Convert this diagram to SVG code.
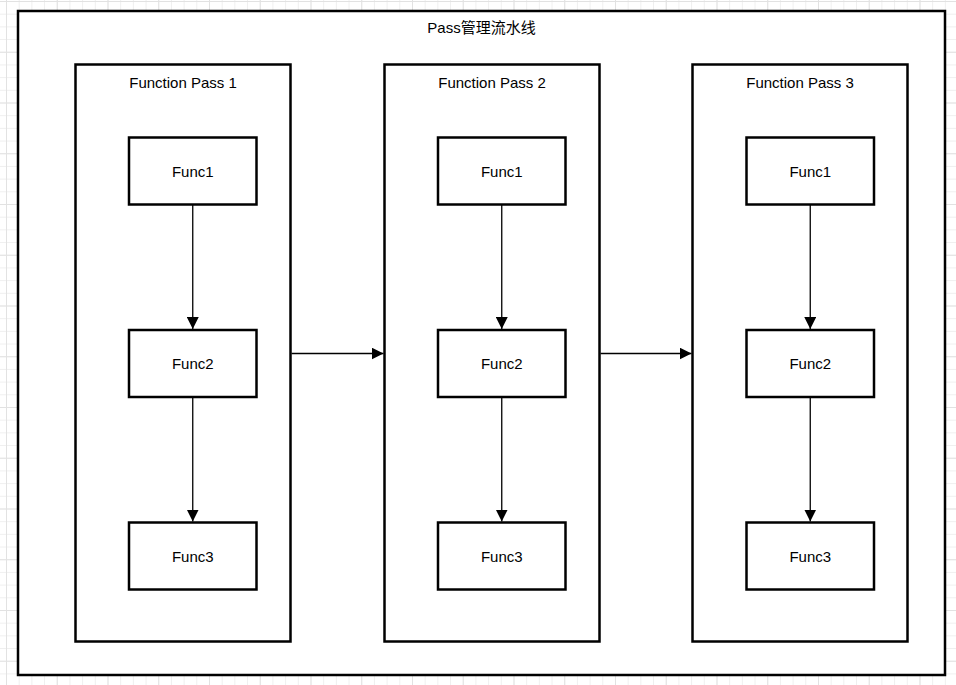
<svg xmlns="http://www.w3.org/2000/svg" width="956" height="685" viewBox="0 0 956 685">
<defs>
<pattern id="gmin" patternUnits="userSpaceOnUse" x="6" y="1" width="12.687" height="12.687">
<path d="M0.5 0V12.687M0 0.5H12.687" fill="none" stroke="#efefef" stroke-width="1"/>
</pattern>
<pattern id="gmaj" patternUnits="userSpaceOnUse" x="6" y="1" width="50.75" height="50.75">
<path d="M0.5 0V50.75M0 0.5H50.75" fill="none" stroke="#e2e2e2" stroke-width="1"/>
</pattern>
<marker id="arr" viewBox="0 0 10 10" refX="10" refY="5" markerWidth="10" markerHeight="10" markerUnits="userSpaceOnUse" orient="auto">
<path d="M0 0L10 5L0 10Z" fill="#000"/>
</marker>
<marker id="arrv" viewBox="0 0 10 10" refX="10" refY="5" markerWidth="12" markerHeight="12" markerUnits="userSpaceOnUse" orient="auto">
<path d="M0 0L10 5L0 10Z" fill="#000"/>
</marker>
</defs>
<style>
.box{fill:#fff;stroke:#000;stroke-width:2.5}
.func{fill:#fff;stroke:#000;stroke-width:2.5}
.t{font-family:"Liberation Sans","Noto Sans CJK SC",sans-serif;font-size:15px;fill:#000;text-anchor:middle}
.c{fill:none;stroke:#000;stroke-width:1.3}
</style>
<rect width="956" height="685" fill="#fff"/>
<rect width="956" height="685" fill="url(#gmin)"/>
<rect width="956" height="685" fill="url(#gmaj)"/>
<g id="pipeline">
<rect class="box" x="18" y="11" width="927" height="664"/>
<text class="t" x="481.5" y="33">Pass管理流水线</text>
</g>
<g id="pass1">
<rect class="box" x="75.5" y="64.5" width="215" height="577"/>
<text class="t" x="183" y="87.5">Function Pass 1</text>
</g>
<g id="pass2">
<rect class="box" x="384.5" y="64.5" width="215" height="577"/>
<text class="t" x="492" y="87.5">Function Pass 2</text>
</g>
<g id="pass3">
<rect class="box" x="692.5" y="64.5" width="215" height="577"/>
<text class="t" x="800" y="87.5">Function Pass 3</text>
</g>
<g id="p1f1"><rect class="func" x="129" y="137.5" width="127.5" height="67"/><text class="t" x="192.75" y="176.5">Func1</text></g>
<g id="p1f2"><rect class="func" x="129" y="330" width="127.5" height="67"/><text class="t" x="192.75" y="369">Func2</text></g>
<g id="p1f3"><rect class="func" x="129" y="522.5" width="127.5" height="67"/><text class="t" x="192.75" y="561.5">Func3</text></g>
<g id="p2f1"><rect class="func" x="438" y="137.5" width="127.5" height="67"/><text class="t" x="501.75" y="176.5">Func1</text></g>
<g id="p2f2"><rect class="func" x="438" y="330" width="127.5" height="67"/><text class="t" x="501.75" y="369">Func2</text></g>
<g id="p2f3"><rect class="func" x="438" y="522.5" width="127.5" height="67"/><text class="t" x="501.75" y="561.5">Func3</text></g>
<g id="p3f1"><rect class="func" x="746.5" y="137.5" width="127.5" height="67"/><text class="t" x="810.25" y="176.5">Func1</text></g>
<g id="p3f2"><rect class="func" x="746.5" y="330" width="127.5" height="67"/><text class="t" x="810.25" y="369">Func2</text></g>
<g id="p3f3"><rect class="func" x="746.5" y="522.5" width="127.5" height="67"/><text class="t" x="810.25" y="561.5">Func3</text></g>
<g id="connectors">
<line class="c" x1="192.75" y1="205" x2="192.75" y2="329" marker-end="url(#arrv)"/>
<line class="c" x1="192.75" y1="398" x2="192.75" y2="521.5" marker-end="url(#arrv)"/>
<line class="c" x1="501.75" y1="205" x2="501.75" y2="329" marker-end="url(#arrv)"/>
<line class="c" x1="501.75" y1="398" x2="501.75" y2="521.5" marker-end="url(#arrv)"/>
<line class="c" x1="810.25" y1="205" x2="810.25" y2="329" marker-end="url(#arrv)"/>
<line class="c" x1="810.25" y1="398" x2="810.25" y2="521.5" marker-end="url(#arrv)"/>
<line class="c" x1="291.5" y1="353.5" x2="383.5" y2="353.5" marker-end="url(#arrv)"/>
<line class="c" x1="600.5" y1="353.5" x2="691.5" y2="353.5" marker-end="url(#arrv)"/>
</g>
</svg>
